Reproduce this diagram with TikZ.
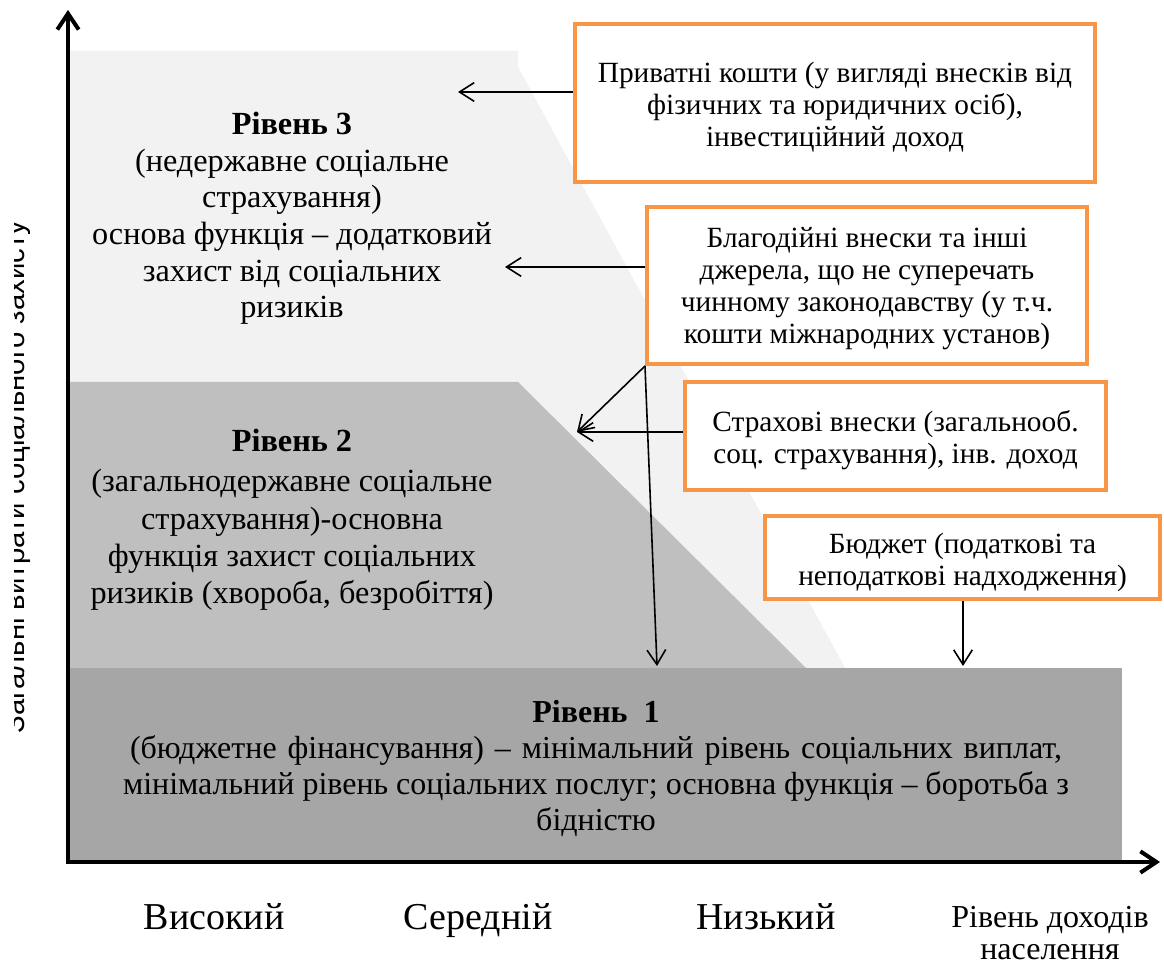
\documentclass[tikz,border=0pt]{standalone}
\usepackage{fontspec}
\setmainfont{Liberation Serif}
\newfontfamily\ylabfont{Liberation Sans}
\usetikzlibrary{arrows.meta}
\definecolor{srcorange}{RGB}{247,150,70}
\definecolor{lvlthree}{RGB}{242,242,242}
\definecolor{lvltwo}{RGB}{191,191,191}
\definecolor{lvlone}{RGB}{166,166,166}
\begin{document}
\begin{tikzpicture}[x=0.75pt,y=-0.75pt,
  srcbox/.style={draw=srcorange, line width=3pt, fill=white, inner sep=0pt},
  srctext/.style={align=center, font=\fontsize{22}{24}\selectfont, inner sep=0pt},
  conn/.style={line width=1.2pt, -{Straight Barb[length=11pt,width=14pt]}},
  axisline/.style={line width=3pt,
    {Straight Barb[length=12pt,width=16pt]}-{Straight Barb[length=12pt,width=16pt]}},
  lvltext/.style={align=center, font=\fontsize{24.2}{28}\selectfont, inner sep=0pt},
  axlab/.style={font=\fontsize{28.5}{30}\selectfont, inner sep=0pt, anchor=base}]

\fill[white] (0,0) rectangle (1164,969);
\useasboundingbox (0,0) rectangle (1164,969);

% level regions
\fill[lvlthree] (68,51) -- (518,51) -- (518,67) -- (845,668) -- (68,668) -- cycle;
\fill[lvltwo] (68,382) -- (518,382) -- (806,668) -- (68,668) -- cycle;
\fill[lvlone] (68,668) rectangle (1122,862);

% axes
\coordinate (ytop) at (68,10);
\coordinate (origin) at (68,862);
\coordinate (xend) at (1160,862);
\draw[axisline] (ytop) -- (origin) -- (xend);

% y axis label (clipped as in the original)
\begin{scope}
  \clip (14,0) rectangle (64,969);
  \node[font=\ylabfont\fontsize{22}{24}\selectfont, rotate=90, anchor=base, inner sep=0pt]
    (ylab) at (24,477) {Загальні витрати соціального захисту};
\end{scope}

% connector ends
\coordinate (t3a) at (458,92);
\coordinate (t3b) at (505,267);
\coordinate (t2) at (577,432);
\coordinate (t1a) at (657,666);
\coordinate (t1b) at (963,666);

% source boxes
\node[srcbox, minimum width=520*0.75pt, minimum height=158*0.75pt] (b1) at (835,103) {};
\node[srcbox, minimum width=440*0.75pt, minimum height=157*0.75pt] (b2) at (867,285.5) {};
\node[srcbox, minimum width=421*0.75pt, minimum height=108*0.75pt] (b3) at (895.5,436) {};
\node[srcbox, minimum width=395*0.75pt, minimum height=83*0.75pt] (b4) at (962.5,557.5) {};

\node[srctext] (b1text) at ([yshift=-3pt]b1.center)
  {Приватні кошти (у вигляді внесків від\\фізичних та юридичних осіб),\\інвестиційний доход};
\node[srctext] (b2text) at ([yshift=-2.5pt]b2.center)
  {Благодійні внески та інші\\джерела, що не суперечать\\чинному законодавству (у т.ч.\\кошти міжнародних установ)};
\node[srctext] (b3text) at ([yshift=-3pt]b3.center)
  {Страхові внески (загальнооб.\\соц. страхування), інв. доход};
\node[srctext] (b4text) at ([yshift=-3.5pt]b4.center)
  {Бюджет (податкові та\\неподаткові надходження)};

\draw[conn] (b1.west |- t3a) -- (t3a);
\draw[conn] (b2.west |- t3b) -- (t3b);
\draw[conn] (b3.west |- t2) -- (t2);
\draw[conn] (b2.south west) -- (t2);
\draw[conn] (b2.south west) -- (t1a);
\draw[conn] (b4.south -| t1b) -- (t1b);

% level texts (anchor = baseline of the last line)
\node[lvltext, anchor=base, font=\fontsize{24.2}{27.5}\selectfont] (lvl3) at (292,318)
  {\textbf{Рівень 3}\\(недержавне соціальне\\страхування)\\основа функція – додатковий\\захист від соціальних\\ризиків};
\node[lvltext, anchor=base] (lvl2) at (292,604)
  {\textbf{Рівень 2}\\[2pt](загальнодержавне соціальне\\страхування)-основна\\функція захист соціальних\\ризиків (хвороба, безробіття)};
\node[lvltext, anchor=base, font=\fontsize{24}{27}\selectfont] (lvl1) at (596,830)
  {\textbf{Рівень~~1}\\
   \makebox[699pt][s]{(бюджетне фінансування) – мінімальний рівень соціальних виплат,}\\
   \makebox[709.5pt][s]{мінімальний рівень соціальних послуг; основна функція – боротьба з}\\
   бідністю};

% x axis labels
\node[axlab] (xl1) at (214,929) {Високий};
\node[axlab] (xl2) at (478,929) {Середній};
\node[axlab] (xl3) at (766,929) {Низький};
\node[lvltext, anchor=base, font=\fontsize{24}{24}\selectfont] (xl4) at (1050,959)
  {Рівень доходів\\населення};
\end{tikzpicture}
\end{document}
